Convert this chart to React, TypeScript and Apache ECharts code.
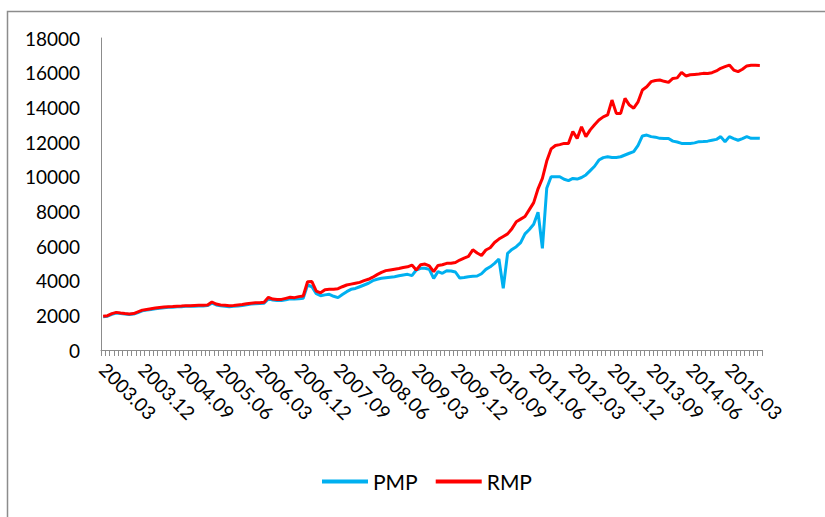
import React, { useEffect, useRef } from "react";
import * as echarts from "echarts";

// Monthly categories, 2003.03 – 2015.10
const startYear = 2003;
const startMonth = 3;
const monthCount = 152;
const categories: string[] = [];
for (let k = 0; k < monthCount; k++) {
  const m = startMonth - 1 + k;
  const y = startYear + Math.floor(m / 12);
  const mm = (m % 12) + 1;
  categories.push(`${y}.${mm < 10 ? "0" + mm : mm}`);
}

const seriesNames = ["PMP", "RMP"];

const pmp = [
  1920, 1950, 2060, 2130, 2100, 2070, 2050, 2070, 2160, 2260,
  2300, 2340, 2380, 2410, 2440, 2460, 2470, 2490, 2500, 2520,
  2520, 2530, 2540, 2540, 2560, 2700, 2600, 2550, 2520, 2500,
  2520, 2540, 2570, 2610, 2650, 2670, 2680, 2700, 2950, 2880,
  2850, 2850, 2900, 2960, 2940, 2950, 2990, 3750, 3650, 3250,
  3130, 3180, 3210, 3100, 3020, 3200, 3365, 3500, 3550, 3650,
  3750, 3850, 4000, 4080, 4135, 4170, 4200, 4230, 4280, 4330,
  4365, 4290, 4615, 4710, 4720, 4650, 4135, 4520, 4425, 4575,
  4560, 4500, 4150, 4180, 4230, 4250, 4270, 4400, 4650, 4800,
  5000, 5250, 3560, 5580, 5800, 5960, 6190, 6700, 6950, 7250,
  7950, 5865, 9330, 10000, 10000, 10000, 9850, 9770, 9900, 9860,
  9950, 10100, 10350, 10600, 10960, 11100, 11150, 11110, 11110, 11150,
  11250, 11350, 11440, 11800, 12350, 12400, 12310, 12280, 12210, 12200,
  12200, 12050, 12000, 11920, 11920, 11920, 11950, 12020, 12030, 12050,
  12100, 12150, 12310, 12020, 12310, 12200, 12100, 12200, 12310, 12210,
  12220, 12210,
];

const rmp = [
  1950, 1980, 2100, 2170, 2130, 2100, 2080, 2100, 2200, 2300,
  2340, 2380, 2420, 2450, 2480, 2500, 2510, 2530, 2540, 2560,
  2560, 2570, 2580, 2580, 2600, 2770, 2650, 2600, 2580, 2550,
  2570, 2600, 2620, 2670, 2700, 2720, 2730, 2760, 3040, 2940,
  2920, 2920, 2980, 3040, 3020, 3080, 3115, 3940, 3950, 3400,
  3300, 3480, 3500, 3510, 3540, 3650, 3750, 3800, 3850, 3900,
  4000, 4080, 4200, 4350, 4480, 4580, 4620, 4660, 4700, 4760,
  4800, 4900, 4620, 4920, 4960, 4850, 4520, 4880, 4920, 5000,
  5000, 5050, 5190, 5300, 5400, 5780, 5600, 5450, 5770, 5900,
  6200, 6400, 6550, 6700, 7000, 7400, 7550, 7700, 8100, 8500,
  9300, 9900, 10900, 11600, 11800, 11850, 11920, 11920, 12600, 12210,
  12880, 12310, 12700, 13000, 13270, 13450, 13560, 14420, 13650, 13650,
  14520, 14130, 13950, 14320, 15000, 15190, 15480, 15550, 15580, 15500,
  15440, 15670, 15700, 16020, 15810, 15880, 15900, 15920, 15960, 15950,
  16000, 16100, 16250, 16350, 16440, 16150, 16060, 16200, 16390, 16430,
  16430, 16420,
];

const FONT = "Lato, 'Noto Sans', sans-serif";

export default function App() {
  const ref = useRef<HTMLDivElement>(null);
  useEffect(() => {
    if (!ref.current) return;
    const chart = echarts.init(ref.current, undefined, { renderer: "svg" });
    chart.setOption({
      animation: false,
      backgroundColor: "#ffffff",
      textStyle: { fontFamily: FONT },
      graphic: [
        {
          type: "rect",
          shape: { x: 7.5, y: 11.5, width: 900, height: 600 },
          style: { fill: "none", stroke: "#8c8c8c", lineWidth: 1.5 },
          silent: true,
        },
      ],
      grid: { left: 101, right: 63, top: 38, bottom: 167, containLabel: false },
      legend: {
        data: seriesNames,
        left: 322,
        top: 471,
        padding: 0,
        icon: "rect",
        itemWidth: 46,
        itemHeight: 4,
        itemGap: 18,
        textStyle: { fontFamily: FONT, fontSize: 21, color: "#000" },
      },
      xAxis: {
        type: "category",
        data: categories,
        boundaryGap: true,
        axisLine: { show: true, lineStyle: { color: "#8c8c8c", width: 1 } },
        axisTick: { show: true, interval: 0, length: 6, lineStyle: { color: "#8c8c8c" } },
        axisLabel: {
          interval: 8,
          rotate: -45,
          margin: 16,
          fontSize: 19,
          fontFamily: FONT,
          color: "#000",
        },
        splitLine: { show: false },
      },
      yAxis: {
        type: "value",
        min: 0,
        max: 18000,
        interval: 2000,
        axisLine: { show: true, lineStyle: { color: "#8c8c8c", width: 1 } },
        axisTick: { show: false },
        splitLine: { show: false },
        axisLabel: {
          fontSize: 19,
          fontFamily: FONT,
          color: "#000",
          margin: 21,
          formatter: (v: number) => String(v),
        },
      },
      series: [
        {
          name: seriesNames[0],
          type: "line",
          data: pmp,
          symbol: "none",
          color: "#00B0F0",
          lineStyle: { width: 3, color: "#00B0F0" },
        },
        {
          name: seriesNames[1],
          type: "line",
          data: rmp,
          symbol: "none",
          color: "#FF0000",
          lineStyle: { width: 3, color: "#FF0000" },
        },
      ],
    });
    return () => chart.dispose();
  }, []);
  return (
    <div
      ref={ref}
      style={{ position: "fixed", left: 0, top: 0, width: 825, height: 517 }}
    />
  );
}
